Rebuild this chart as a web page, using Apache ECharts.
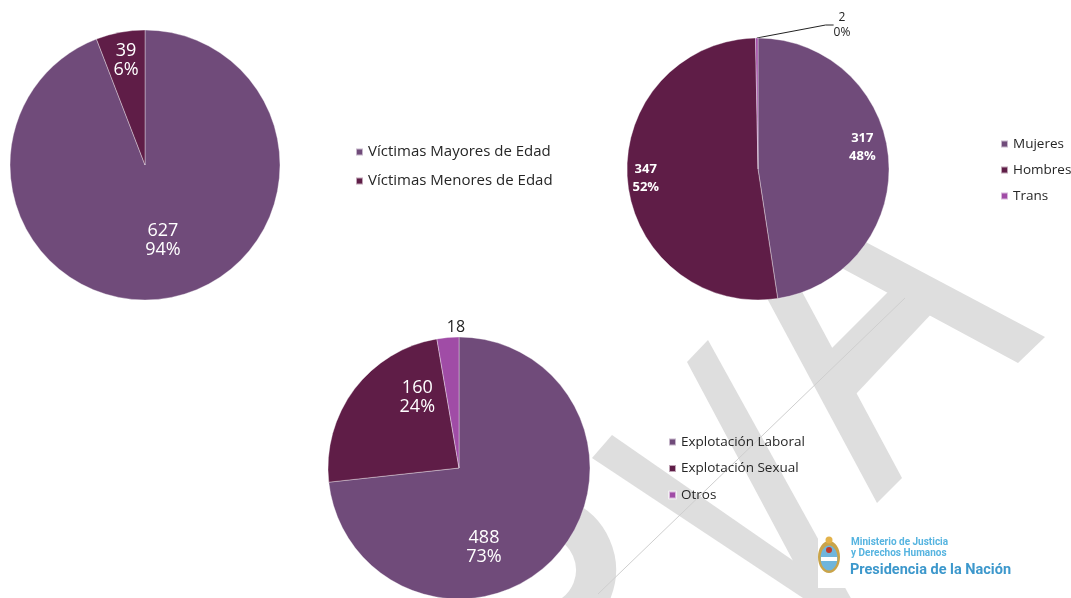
<!DOCTYPE html>
<html>
<head>
<meta charset="utf-8">
<script src="https://cdn.jsdelivr.net/npm/echarts@6/dist/echarts.min.js"></script>
<style>
  html, body { margin: 0; padding: 0; background: #fff; }
  #chart { width: 1071px; height: 598px; }
</style>
</head>
<body>
<div id="chart"></div>
<script>
// edad de las víctimas
var edadNombres = ['Víctimas Mayores de Edad', 'Víctimas Menores de Edad'];
var edadValores = [627, 39];
// género
var generoNombres = ['Mujeres', 'Hombres', 'Trans'];
var generoValores = [317, 347, 2];
// tipo de explotación
var tipoNombres = ['Explotación Laboral', 'Explotación Sexual', 'Otros'];
var tipoValores = [488, 160, 18];

var colores = ['#704b7a', '#5f1d47', '#a04ca6'];
var fuente = '"Open Sans", sans-serif';

// pequeños ajustes de las etiquetas internas (dx, dy)
var ajusteEdad = [[5, 6], [-6, -35]];
var ajusteGenero = [[36, -17], [-44, 3]];
var ajusteTipo = [[-26, 34], [13, -29]];

function armarDatos(nombres, valores) {
  return nombres.map(function (n, i) {
    return { name: n, value: valores[i], itemStyle: { color: colores[i] } };
  });
}

var datosGenero = armarDatos(generoNombres, generoValores);
datosGenero[2].label = {
  position: 'outside', color: '#222', fontWeight: 'normal', fontSize: 12, lineHeight: 15,
  formatter: '{c}\n{d}%'
};
datosGenero[2].labelLine = { show: true, length: 8, length2: 8, lineStyle: { color: '#222', width: 1 } };

var datosTipo = armarDatos(tipoNombres, tipoValores);
datosTipo[2].label = { position: 'outside', color: '#222', fontSize: 16, formatter: '{c}' };
datosTipo[2].labelLine = { show: false };

function serieTorta(centro, radio, datos, ajustes, etiqueta, externa) {
  return {
    type: 'pie',
    center: centro,
    radius: radio,
    startAngle: 90,
    clockwise: true,
    percentPrecision: 0,
    silent: true,
    avoidLabelOverlap: false,
    itemStyle: { borderColor: 'rgba(255,255,255,0.6)', borderWidth: 0.6 },
    label: etiqueta,
    labelLine: { show: false },
    labelLayout: function (p) {
      if (ajustes[p.dataIndex]) {
        return { dx: ajustes[p.dataIndex][0], dy: ajustes[p.dataIndex][1] };
      }
      if (externa) return externa;
      return {};
    },
    data: datos
  };
}

var chart = echarts.init(document.getElementById('chart'));

var gris = '#dedede';
var option = {
  animation: false,
  backgroundColor: '#fff',
  textStyle: { fontFamily: fuente },
  legend: [
    {
      data: edadNombres, orient: 'vertical', left: 350, top: 138,
      icon: 'rect', itemWidth: 7, itemHeight: 7, itemGap: 11, selectedMode: false,
      textStyle: { fontSize: 15, lineHeight: 18, color: '#262626', fontFamily: fuente }
    },
    {
      data: generoNombres, orient: 'vertical', left: 995, top: 131,
      icon: 'rect', itemWidth: 7, itemHeight: 7, itemGap: 10, selectedMode: false,
      textStyle: { fontSize: 13.5, lineHeight: 16, color: '#262626', fontFamily: fuente }
    },
    {
      data: tipoNombres, orient: 'vertical', left: 663, top: 429,
      icon: 'rect', itemWidth: 7, itemHeight: 7, itemGap: 10.5, selectedMode: false,
      textStyle: { fontSize: 13.5, lineHeight: 16, color: '#262626', fontFamily: fuente }
    }
  ],
  graphic: [
    // marca de agua
    { type: 'polygon', z: -10, shape: { points: [[740, 248], [770, 232], [902, 478], [877, 503]] }, style: { fill: gris } },
    { type: 'polygon', z: -10, shape: { points: [[810, 251], [826, 221], [1045, 337], [1018, 363]] }, style: { fill: gris } },
    { type: 'polygon', z: -10, shape: { points: [[890, 290], [935, 310], [855, 395], [825, 355]] }, style: { fill: gris } },
    { type: 'polygon', z: -10, shape: { points: [[687, 362], [708, 340], [853, 602], [815, 602]] }, style: { fill: gris } },
    { type: 'polygon', z: -10, shape: { points: [[592, 458], [612, 435], [850, 600], [806, 600]] }, style: { fill: gris } },
    { type: 'arc', z: -10, shape: { cx: 541, cy: 570, r: 55, startAngle: -1.2, endAngle: 1.6 }, style: { stroke: gris, lineWidth: 40, fill: null } },
    { type: 'line', z: -9, shape: { x1: 905, y1: 298, x2: 598, y2: 594 }, style: { stroke: '#cfcfcf', lineWidth: 1 } },
    // logo
    { type: 'rect', z: -5, shape: { x: 818, y: 530, width: 200, height: 58 }, style: { fill: '#fff' } },
    { type: 'ellipse', z: 20, shape: { cx: 829, cy: 557, rx: 11, ry: 16 }, style: { fill: '#c9a44a' } },
    { type: 'ellipse', z: 21, shape: { cx: 829, cy: 558, rx: 8.5, ry: 12.5 }, style: { fill: '#6fb5dc' } },
    { type: 'rect', z: 22, shape: { x: 821, y: 557, width: 16, height: 4 }, style: { fill: '#fff' } },
    { type: 'circle', z: 22, shape: { cx: 829, cy: 550, r: 3 }, style: { fill: '#c0392b' } },
    { type: 'circle', z: 22, shape: { cx: 829, cy: 540, r: 3.5 }, style: { fill: '#e3b24a' } },
    { type: 'text', z: 22, x: 851, y: 542, style: { text: 'Ministerio de Justicia', font: 'bold 10px Roboto', fill: '#56b4e0', verticalAlign: 'middle' } },
    { type: 'text', z: 22, x: 851, y: 553, style: { text: 'y Derechos Humanos', font: 'bold 10px Roboto', fill: '#56b4e0', verticalAlign: 'middle' } },
    { type: 'text', z: 22, x: 850, y: 570, style: { text: 'Presidencia de la Nación', font: 'bold 14.5px Roboto', fill: '#3d98cc', verticalAlign: 'middle' } }
  ],
  series: [
    serieTorta([145, 165], 135, armarDatos(edadNombres, edadValores), ajusteEdad,
      { position: 'inside', formatter: '{c}\n{d}%', color: '#fff', fontSize: 18, lineHeight: 19, fontFamily: fuente }),
    serieTorta([758, 169], 131, datosGenero, ajusteGenero,
      { position: 'inside', formatter: '{c}\n{d}%', color: '#fff', fontSize: 13, fontWeight: 'bold', lineHeight: 18, fontFamily: fuente },
      { x: 842, y: 25, align: 'center', verticalAlign: 'middle' }),
    serieTorta([459, 468], 131, datosTipo, ajusteTipo,
      { position: 'inside', formatter: '{c}\n{d}%', color: '#fff', fontSize: 18, lineHeight: 19, fontFamily: fuente },
      { x: 456, y: 327, align: 'center', verticalAlign: 'middle' })
  ]
};

chart.setOption(option);
</script>
</body>
</html>
